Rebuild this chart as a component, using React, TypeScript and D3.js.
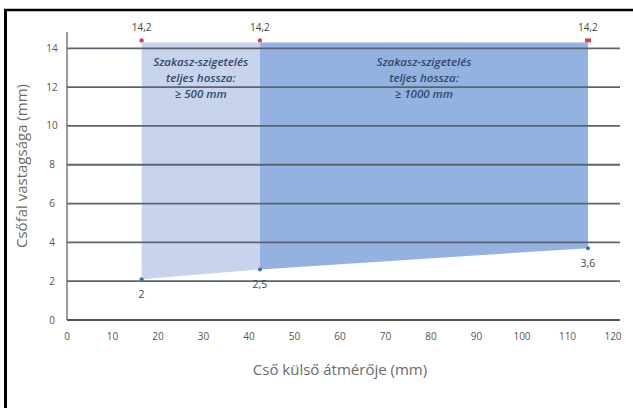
import React from "react";
import * as d3 from "d3";

const xTicks = [0, 10, 20, 30, 40, 50, 60, 70, 80, 90, 100, 110, 120];
const yTicks = [0, 2, 4, 6, 8, 10, 12, 14];
const diameters = [16.4, 42.4, 114.5];
const minThickness = [2, 2.5, 3.6];
const minLabels = ["2", "2,5", "3,6"];
const maxThickness = [14.2, 14.2, 14.2];
const maxLabels = ["14,2", "14,2", "14,2"];
const zoneTexts = [
  ["Szakasz-szigetelés", "teljes hossza:", "≥ 500 mm"],
  ["Szakasz-szigetelés", "teljes hossza:", "≥ 1000 mm"],
];
const zoneColors = ["#c8d4ee", "#93b2df"];

export default function App() {
  const W = 633, H = 408;
  const x = d3.scaleLinear().domain([0, 120]).range([67, 613]);
  const y = d3.scaleLinear().domain([0, 14]).range([320, 48.3]);
  const font = "'Open Sans', 'Noto Sans', sans-serif";

  const zones = [0, 1].map((i) => {
    const pts: [number, number][] = [
      [diameters[i], maxThickness[i]],
      [diameters[i + 1], maxThickness[i + 1]],
      [diameters[i + 1], minThickness[i + 1]],
      [diameters[i], minThickness[i]],
    ];
    const line = d3.line<[number, number]>().x((d) => x(d[0])).y((d) => y(d[1]) - 2);
    return line(pts) + "Z";
  });

  return (
    <svg width={W} height={H} style={{ position: "absolute", left: 0, top: 0, background: "#fff" }}>
      <line x1={5.5} y1={10} x2={5.5} y2={H} stroke="#000" strokeWidth={3} />
      <line x1={4} y1={10} x2={W} y2={10} stroke="#000" strokeWidth={2.5} />
      {zones.map((d, i) => (
        <path key={i} d={d} fill={zoneColors[i]} />
      ))}
      {yTicks.map((t) => (
        <g key={t}>
          <line x1={x(0)} x2={620} y1={y(t)} y2={y(t)} stroke={t === 0 ? "#555" : "#5a6470"} strokeWidth={1.8} />
          <text x={52} y={y(t)} dy="0.35em" textAnchor="middle" fontSize={10} fill="#555" fontFamily={font}>{t}</text>
        </g>
      ))}
      <line x1={x(0)} x2={x(0)} y1={32} y2={320} stroke="#666" strokeWidth={1.3} />
      {xTicks.map((t) => (
        <text key={t} x={x(t)} y={336} dy="0.35em" textAnchor="middle" fontSize={10} fill="#555" fontFamily={font}>{t}</text>
      ))}
      {zoneTexts.map((lines, i) => {
        const cx = (x(diameters[i]) + x(diameters[i + 1])) / 2;
        return lines.map((s, j) => (
          <text key={i + "-" + j} x={cx} y={62 + j * 16} dy="0.35em" textAnchor="middle" fontSize={11.5}
            fontStyle="italic" fontWeight={600} fill="#34486a" fontFamily={font}>{s}</text>
        ));
      })}
      {diameters.map((d, i) => (
        <g key={"p" + i}>
          {i < 2 ? (
            <circle cx={x(d)} cy={y(maxThickness[i]) - 4} r={2.2} fill="#d0405a" />
          ) : (
            <rect x={x(d) - 3} y={y(maxThickness[i]) - 6} width={6} height={4} fill="#d0405a" />
          )}
          <text x={x(d)} y={y(maxThickness[i]) - 17} dy="0.35em" textAnchor="middle" fontSize={10} fill="#444" fontFamily={font}>{maxLabels[i]}</text>
          <circle cx={x(d)} cy={y(minThickness[i]) - 2} r={2} fill="#3f6fa8" />
          <text x={x(d)} y={y(minThickness[i]) + 13} dy="0.35em" textAnchor="middle" fontSize={10.5} fill="#444" fontFamily={font}>{minLabels[i]}</text>
        </g>
      ))}
      <text transform={`translate(22,166) rotate(-90)`} textAnchor="middle" dy="0.35em" fontSize={15} fill="#6a6a6a" fontFamily={font}>Csőfal vastagsága (mm)</text>
      <text x={340} y={370} textAnchor="middle" dy="0.35em" fontSize={15} fill="#6a6a6a" fontFamily={font}>Cső külső átmérője (mm)</text>
    </svg>
  );
}
